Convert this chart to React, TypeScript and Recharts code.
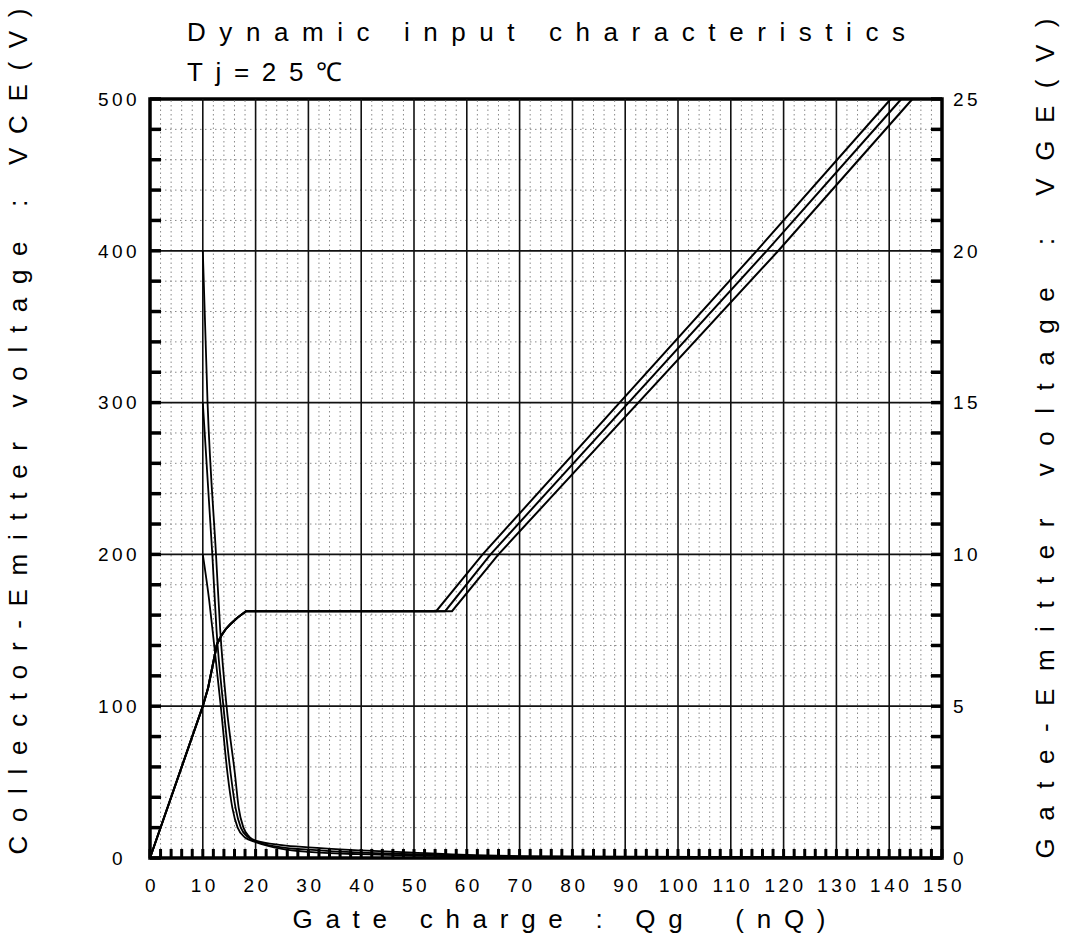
import { LineChart, Line, XAxis, YAxis, ReferenceLine, ReferenceArea } from "recharts";

// axis labels as printed on the sheet
const qLabels = [0, 10, 20, 30, 40, 50, 60, 70, 80, 90, 100, 110, 120, 130, 140, 150];
const vceLabels = [0, 100, 200, 300, 400, 500];
const vgeLabels = [0, 5, 10, 15, 20, 25];

// minor tick / dotted grid positions
const steps = (max: number, step: number) =>
    Array.from({ length: Math.round(max / step) + 1 }, (_, i) => i * step);
const qMarks = steps(150, 2);
const vceMarks = steps(500, 20);
const vgeMarks = steps(25, 1);

// VGE: common rise up to the Miller plateau
const vgeRiseQ = [0, 10, 11, 12.7, 13.6, 14.4, 15.2, 16.6, 18.2];
const vgeRiseV = [0, 5.0, 5.6, 7.05, 7.35, 7.55, 7.7, 7.92, 8.13];
// plateau end + ramp, one per curve
const vgeRampQA = [54.2, 63, 114.9, 140.3];
const vgeRampQB = [55.9, 64.5, 116.8, 142.3];
const vgeRampQC = [57.2, 66, 119, 144.4];
const vgeRampV = [8.13, 10, 20, 25];

// VCE fall curves for 400 / 300 / 200 V
const vce400Q = [10, 10.9, 12.5, 13.3, 14.5, 16.1, 16.8, 17.7, 18.8, 20, 25, 30, 40, 50, 60, 80, 150];
const vce400V = [400, 300, 200, 150, 100, 55, 33, 20, 14, 11.5, 8.5, 7, 5, 3.5, 2, 1, 0];
const vce300Q = [10, 11.8, 12.6, 13.9, 15.3, 16.2, 17.2, 18.5, 20, 25, 30, 40, 50, 60, 80, 150];
const vce300V = [300, 200, 150, 100, 55, 33, 20, 14, 11, 7, 5.5, 3.5, 2.5, 1.5, 0.8, 0];
const vce200Q = [10, 11.2, 12.1, 13.4, 14.7, 15.6, 16.6, 18, 20, 25, 30, 40, 50, 60, 80, 150];
const vce200V = [200, 170, 142, 100, 55, 33, 20, 13.5, 10.5, 6, 4, 2.5, 1.5, 1, 0.5, 0];

const zip = (qs: number[], vs: number[]) => qs.map((q, i) => ({ q, v: vs[i] }));

const vgeA = zip([...vgeRiseQ, ...vgeRampQA], [...vgeRiseV, ...vgeRampV]);
const vgeB = zip([...vgeRiseQ, ...vgeRampQB], [...vgeRiseV, ...vgeRampV]);
const vgeC = zip([...vgeRiseQ, ...vgeRampQC], [...vgeRiseV, ...vgeRampV]);
const vce400 = zip(vce400Q, vce400V);
const vce300 = zip(vce300Q, vce300V);
const vce200 = zip(vce200Q, vce200V);

const FONT = "'Liberation Sans', Arial, sans-serif";
const tickFont = { fontFamily: FONT, fontSize: 19, letterSpacing: 3.5, fill: "#000" };
const titleFont = { fontFamily: FONT, fontSize: 26, fill: "#000", whiteSpace: "pre" as const };

const BottomTick = ({ x, y, payload }: any) => (
    <g>
        <line x1={x} y1={y} x2={x} y2={y - 9} stroke="#000" strokeWidth={3} />
        {qLabels.includes(payload.value) && (
            <text x={x + 2} y={y + 34} textAnchor="middle" style={tickFont}>
                {payload.value}
            </text>
        )}
    </g>
);

const TopTick = ({ x, y }: any) => (
    <line x1={x} y1={y} x2={x} y2={y + 8} stroke="#000" strokeWidth={3} />
);

const LeftTick = ({ x, y, payload }: any) => (
    <g>
        <line x1={x} y1={y} x2={x + 11} y2={y} stroke="#000" strokeWidth={3.5} />
        {vceLabels.includes(payload.value) && (
            <text x={x - 31} y={y} dy="0.36em" textAnchor="middle" style={tickFont}>
                {payload.value}
            </text>
        )}
    </g>
);

const RightTick = ({ x, y, payload }: any) => (
    <g>
        <line x1={x} y1={y} x2={x - 11} y2={y} stroke="#000" strokeWidth={3.5} />
        {vgeLabels.includes(payload.value) && (
            <text x={x + 11} y={y} dy="0.36em" textAnchor="start" style={tickFont}>
                {payload.value}
            </text>
        )}
    </g>
);

const xTitle = ({ viewBox }: any) => (
    <text
        x={viewBox.x + viewBox.width / 2 + 13}
        y={viewBox.y + 70}
        textAnchor="middle"
        textLength={533}
        lengthAdjust="spacing"
        style={titleFont}
    >
        Gate charge : Qg  (nQ)
    </text>
);

const leftTitle = ({ viewBox }: any) => {
    const cx = viewBox.x + 18;
    const cy = viewBox.y + viewBox.height / 2 - 47;
    return (
        <text
            x={cx}
            y={cy}
            dy="0.36em"
            textAnchor="middle"
            transform={`rotate(-90 ${cx} ${cy})`}
            textLength={846}
            lengthAdjust="spacing"
            style={titleFont}
        >
            Collector-Emitter voltage : VCE(V)
        </text>
    );
};

const rightTitle = ({ viewBox }: any) => {
    const cx = viewBox.x + 103;
    const cy = viewBox.y + viewBox.height / 2 - 40;
    return (
        <text
            x={cx}
            y={cy}
            dy="0.36em"
            textAnchor="middle"
            transform={`rotate(-90 ${cx} ${cy})`}
            textLength={840}
            lengthAdjust="spacing"
            style={titleFont}
        >
            Gate-Emitter voltage : VGE(V)
        </text>
    );
};

export default function App() {
    return (
        <div style={{ position: "absolute", left: 0, top: 0, width: 1074, height: 940, background: "#fff" }}>
            <LineChart width={1074} height={940} margin={{ top: 99, right: 0, bottom: 0, left: 0 }}>
                <XAxis
                    xAxisId="q"
                    dataKey="q"
                    type="number"
                    domain={[0, 150]}
                    ticks={qMarks}
                    interval={0}
                    height={82}
                    tickSize={0}
                    tickMargin={0}
                    tickLine={false}
                    axisLine={false}
                    tick={BottomTick}
                    label={xTitle}
                />
                <XAxis
                    xAxisId="top"
                    orientation="top"
                    type="number"
                    domain={[0, 150]}
                    ticks={qMarks}
                    interval={0}
                    height={0}
                    tickSize={0}
                    tickMargin={0}
                    tickLine={false}
                    axisLine={false}
                    tick={TopTick}
                />
                <YAxis
                    yAxisId="vce"
                    type="number"
                    domain={[0, 500]}
                    ticks={vceMarks}
                    interval={0}
                    width={150}
                    tickSize={0}
                    tickMargin={0}
                    tickLine={false}
                    axisLine={false}
                    tick={LeftTick}
                    label={leftTitle}
                />
                <YAxis
                    yAxisId="vge"
                    orientation="right"
                    type="number"
                    domain={[0, 25]}
                    ticks={vgeMarks}
                    interval={0}
                    width={132}
                    tickSize={0}
                    tickMargin={0}
                    tickLine={false}
                    axisLine={false}
                    tick={RightTick}
                    label={rightTitle}
                />

                {qMarks
                    .filter((q) => !qLabels.includes(q))
                    .map((q) => (
                        <ReferenceLine key={`qm${q}`} x={q} xAxisId="q" yAxisId="vce" stroke="#8a8a8a" strokeWidth={1} strokeDasharray="1.5 3" />
                    ))}
                {vceMarks
                    .filter((v) => !vceLabels.includes(v))
                    .map((v) => (
                        <ReferenceLine key={`vm${v}`} y={v} xAxisId="q" yAxisId="vce" stroke="#8a8a8a" strokeWidth={1} strokeDasharray="1.5 3.5" />
                    ))}
                {qLabels.slice(1, -1).map((q) => (
                    <ReferenceLine key={`qM${q}`} x={q} xAxisId="q" yAxisId="vce" stroke="#111" strokeWidth={1.6} />
                ))}
                {vceLabels.slice(1, -1).map((v) => (
                    <ReferenceLine key={`vM${v}`} y={v} xAxisId="q" yAxisId="vce" stroke="#111" strokeWidth={1.8} />
                ))}

                <Line data={vce400} dataKey="v" xAxisId="q" yAxisId="vce" type="monotone" stroke="#000" strokeWidth={1.8} dot={false} isAnimationActive={false} />
                <Line data={vce300} dataKey="v" xAxisId="q" yAxisId="vce" type="monotone" stroke="#000" strokeWidth={1.8} dot={false} isAnimationActive={false} />
                <Line data={vce200} dataKey="v" xAxisId="q" yAxisId="vce" type="monotone" stroke="#000" strokeWidth={1.8} dot={false} isAnimationActive={false} />
                <Line data={vgeA} dataKey="v" xAxisId="q" yAxisId="vge" type="linear" stroke="#000" strokeWidth={2} dot={false} isAnimationActive={false} />
                <Line data={vgeB} dataKey="v" xAxisId="q" yAxisId="vge" type="linear" stroke="#000" strokeWidth={2} dot={false} isAnimationActive={false} />
                <Line data={vgeC} dataKey="v" xAxisId="q" yAxisId="vge" type="linear" stroke="#000" strokeWidth={2} dot={false} isAnimationActive={false} />

                <ReferenceArea x1={0} x2={150} y1={0} y2={500} xAxisId="q" yAxisId="vce" fill="none" fillOpacity={0} stroke="#000" strokeWidth={3.5} />
            </LineChart>

            <svg width={1074} height={100} style={{ position: "absolute", left: 0, top: 0, pointerEvents: "none" }}>
                <text x={187} y={41} textLength={718} lengthAdjust="spacing" style={titleFont}>
                    Dynamic input characteristics
                </text>
                <text x={187} y={81} textLength={155} lengthAdjust="spacing" style={titleFont}>
                    Tj=25℃
                </text>
            </svg>
        </div>
    );
}
